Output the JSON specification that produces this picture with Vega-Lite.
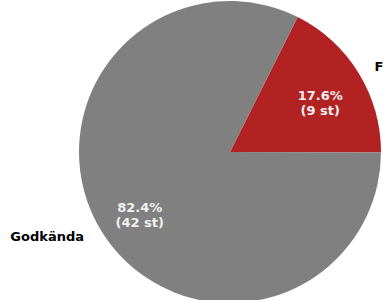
{
  "$schema": "https://vega.github.io/schema/vega-lite/v6.json",
  "width": 460,
  "height": 304,
  "autosize": "none",
  "padding": 0,
  "background": "white",
  "config": {"view": {"stroke": null}},
  "data": {"values": [
    {"category": "F", "count": 9, "order": 1, "pct_label": "17.6%\n(9 st)"},
    {"category": "Godkända", "count": 42, "order": 2, "pct_label": "82.4%\n(42 st)"}
  ]},
  "encoding": {
    "theta": {"field": "count", "type": "quantitative", "stack": true, "scale": {"range": [0.465, 6.7482]}},
    "order": {"field": "order", "type": "quantitative"}
  },
  "layer": [
    {
      "mark": {"type": "arc", "outerRadius": 151},
      "encoding": {
        "color": {"field": "category", "type": "nominal", "scale": {"domain": ["F", "Godkända"], "range": ["#B22222", "#808080"]}, "legend": null}
      }
    },
    {
      "mark": {"type": "text", "radius": 106, "font": "DejaVu Sans", "fontWeight": "bold", "fontSize": 13, "color": "#F0F0F0", "lineBreak": "\n", "lineHeight": 15, "align": "center", "baseline": "middle"},
      "encoding": {"text": {"field": "pct_label", "type": "nominal"}}
    },
    {
      "mark": {"type": "text", "radius": 162, "dx": 11, "font": "DejaVu Sans", "fontWeight": "bold", "fontSize": 13, "color": "black", "align": "center", "baseline": "middle"},
      "encoding": {"text": {"condition": {"test": "datum.category === 'F'", "field": "category"}, "value": ""}}
    },
    {
      "mark": {"type": "text", "radius": 162, "dx": -8, "font": "DejaVu Sans", "fontWeight": "bold", "fontSize": 13, "color": "black", "align": "right", "baseline": "middle"},
      "encoding": {"text": {"condition": {"test": "datum.category === 'Godkända'", "field": "category"}, "value": ""}}
    }
  ]
}
